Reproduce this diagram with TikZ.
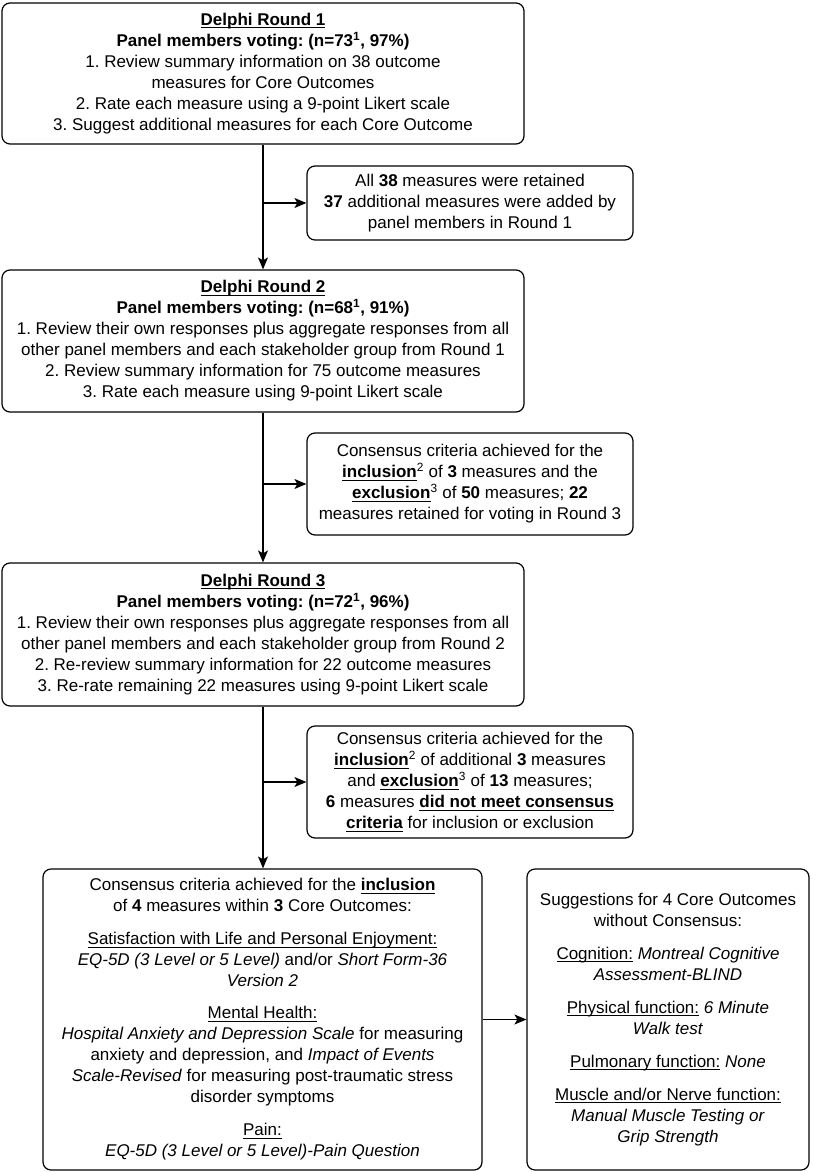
\documentclass[tikz,border=0pt]{standalone}
\usepackage{fontspec}
\setmainfont{Liberation Sans}
\newcommand{\myul}[1]{\leavevmode\setbox0\hbox{#1}\rlap{\rule[-2.6pt]{\wd0}{0.9pt}}\box0\relax}
\frenchspacing
\usetikzlibrary{arrows.meta}
\tikzset{
  box/.style={draw, line width=1.2pt, rounded corners=8pt, align=center, inner sep=0pt,
    font=\fontsize{17}{21}\selectfont},
  conn/.style={line width=1.2pt, -{Stealth[length=12pt,width=10pt,inset=3pt]}},
}
\begin{document}
\begin{tikzpicture}[x=1pt,y=-1pt]
\useasboundingbox (0,0) rectangle (812,1172);

\node[box, minimum width=522pt, minimum height=141pt] (b1) at (263,73.5) {%
\myul{\textbf{Delphi Round 1}}\\
\textbf{Panel members voting: (n=73\textsuperscript{1}, 97\%)}\\
1. Review summary information on 38 outcome\\
measures for Core Outcomes\\
2. Rate each measure using a 9-point Likert scale\\
3. Suggest additional measures for each Core Outcome};

\node[box, minimum width=326pt, minimum height=74pt] (s1) at (470,203) {%
All \textbf{38} measures were retained\\
\textbf{37} additional measures were added by\\
panel members in Round 1};

\node[box, minimum width=522pt, minimum height=142pt] (b2) at (263,341) {%
\myul{\textbf{Delphi Round 2}}\\
\textbf{Panel members voting: (n=68\textsuperscript{1}, 91\%)}\\
1. Review their own responses plus aggregate responses from all\\
other panel members and each stakeholder group from Round 1\\
2. Review summary information for 75 outcome measures\\
3. Rate each measure using 9-point Likert scale};

\node[box, minimum width=326pt, minimum height=102pt] (s2) at (470,484) {%
Consensus criteria achieved for the\\
\myul{\textbf{inclusion}}\textsuperscript{2} of \textbf{3} measures and the\\
\myul{\textbf{exclusion}}\textsuperscript{3} of \textbf{50} measures; \textbf{22}\\
measures retained for voting in Round 3};

\node[box, minimum width=522pt, minimum height=143pt] (b3) at (263,634.5) {%
\myul{\textbf{Delphi Round 3}}\\
\textbf{Panel members voting: (n=72\textsuperscript{1}, 96\%)}\\
1. Review their own responses plus aggregate responses from all\\
other panel members and each stakeholder group from Round 2\\
2. Re-review summary information for 22 outcome measures\\
3. Re-rate remaining 22 measures using 9-point Likert scale};

\node[box, minimum width=326pt, minimum height=112pt] (s3) at (470,782) {%
Consensus criteria achieved for the\\
\myul{\textbf{inclusion}}\textsuperscript{2} of additional \textbf{3} measures\\
and \myul{\textbf{exclusion}}\textsuperscript{3} of \textbf{13} measures;\\
\textbf{6} measures \myul{\textbf{did not meet consensus}}\\
\myul{\textbf{criteria}} for inclusion or exclusion};

\node[box, minimum width=439pt, minimum height=301pt] (b4) at (262.5,1019.5) {%
Consensus criteria achieved for the \myul{\textbf{inclusion}}\\
of \textbf{4} measures within \textbf{3} Core Outcomes:\\[12pt]
\myul{Satisfaction with Life and Personal Enjoyment:}\\
\textit{EQ-5D (3 Level or 5 Level)} and/or \textit{Short Form-36}\\
\textit{Version 2}\\[11pt]
\myul{Mental Health:}\\
\textit{Hospital Anxiety and Depression Scale} for measuring\\
anxiety and depression, and \textit{Impact of Events}\\
\textit{Scale-Revised} for measuring post-traumatic stress\\
disorder symptoms\\[12pt]
\myul{Pain:}\\
\textit{EQ-5D (3 Level or 5 Level)-Pain Question}};

\node[box, minimum width=282pt, minimum height=301pt] (b5) at (668,1019.5) {%
Suggestions for 4 Core Outcomes\\
without Consensus:\\[12pt]
\myul{Cognition:} \textit{Montreal Cognitive}\\
\textit{Assessment-BLIND}\\[12pt]
\myul{Physical function:} \textit{6 Minute}\\
\textit{Walk test}\\[12pt]
\myul{Pulmonary function:} \textit{None}\\[12pt]
\myul{Muscle and/or Nerve function:}\\
\textit{Manual Muscle Testing or}\\
\textit{Grip Strength}};

\coordinate (j1) at (b1.south |- s1.west);
\coordinate (j2) at (b2.south |- s2.west);
\coordinate (j3) at (b3.south |- s3.west);

\draw[conn] (b1.south) -- (b2.north);
\draw[conn] (j1) -- (s1.west);
\draw[conn] (b2.south) -- (b3.north);
\draw[conn] (j2) -- (s2.west);
\draw[conn] (b3.south) -- (b3.south |- b4.north);
\draw[conn] (j3) -- (s3.west);
\draw[conn] (b4.east) -- (b5.west);
\end{tikzpicture}
\end{document}
